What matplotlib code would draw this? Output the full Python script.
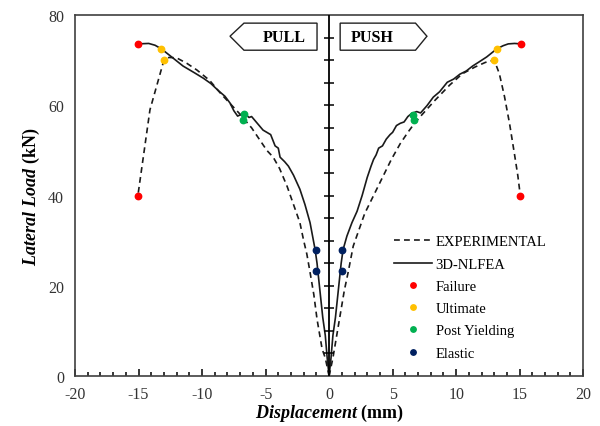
import matplotlib
matplotlib.use("Agg")
import matplotlib.pyplot as plt
from matplotlib.patches import Polygon
import numpy as np

plt.rcParams['font.family'] = ['Liberation Serif', 'DejaVu Serif']
plt.rcParams['mathtext.fontset'] = 'custom'
plt.rcParams['mathtext.bfit'] = 'Liberation Serif:italic:bold'
plt.rcParams['mathtext.rm'] = 'Liberation Serif'
plt.rcParams['axes.unicode_minus'] = False

# push side (positive displacement)
push_exp_x = [0, 0.3, 0.6, 0.9, 1.2, 1.5, 1.9, 2.3, 2.8, 3.5, 4.2, 4.9, 5.6, 6.2, 6.8,
              7.5, 8.3, 9.5, 10.5, 11.5, 12.3, 13.0, 13.4, 13.8, 14.2, 14.6, 14.85, 15.05]
push_exp_y = [0, 4, 9, 14, 19, 23, 28.8, 32, 36, 40, 44, 48, 51.5, 54, 56.3,
              58.5, 61, 64.5, 67, 68.5, 69.5, 70, 67, 62, 56, 49, 44.5, 40]
push_fea_x = [0, 0.15, 0.3, 0.5, 0.65, 0.8, 0.95, 1.1, 1.4, 1.8, 2.2, 2.6, 3.0, 3.3, 3.5,
              3.7, 3.9, 4.2, 4.5, 4.8, 5.0, 5.3, 5.6, 5.9, 6.2, 6.5, 6.9, 7.2, 7.7, 8.2,
              8.7, 9.3, 9.8, 10.3, 10.8, 11.3, 11.8, 12.4, 13.2, 13.7, 14.1, 14.6, 15.1]
push_fea_y = [0, 4, 9, 13, 17, 21, 25, 28, 31, 34, 36.5, 40, 44, 46.5, 48,
              49, 50.5, 51, 52.5, 53.5, 54, 55.5, 56, 56.3, 57.5, 58.2, 58.6, 58.3, 59.9, 61.8,
              63, 65.1, 65.8, 66.9, 67.6, 68.7, 69.6, 70.7, 72.5, 73.2, 73.6, 73.7, 73.6]

# pull side (negative displacement)
pull_exp_x = [0, -0.3, -0.55, -0.95, -1.2, -1.5, -1.75, -2.0, -2.3, -2.8, -3.3, -3.9, -4.4,
              -4.9, -5.5, -6.1, -6.5, -7.0, -7.6, -8.5, -9.4, -10.4, -11.2, -12.0, -12.6,
              -13.0, -13.5, -14.1, -14.5, -14.8, -15.05]
pull_exp_y = [0, 4, 6, 12.6, 18, 23, 27, 30, 34, 38, 42, 46, 48.5,
              50, 52.5, 55, 56.3, 58, 59.8, 62.5, 65.5, 67.8, 69.3, 70.5, 70.6,
              70, 65, 59, 51, 45, 40]
pull_fea_x = [0, -0.15, -0.3, -0.5, -0.65, -0.8, -0.95, -1.1, -1.3, -1.5, -1.9, -2.3, -2.8,
              -3.2, -3.5, -3.86, -4.0, -4.25, -4.6, -4.9, -5.2, -5.5, -5.8, -6.1, -6.3, -6.6,
              -6.9, -7.2, -7.5, -7.8, -8.2, -8.7, -9.3, -9.9, -10.6, -11.5, -12.3, -13.2,
              -13.7, -14.2, -15.05]
pull_fea_y = [0, 4, 9, 13, 17, 21, 25, 28, 31, 34, 38, 41.4, 44.5,
              46.5, 47.5, 48.5, 50.5, 51, 53.5, 54, 54.5, 55.5, 56.5, 57.5, 57.3, 58,
              58, 57.6, 58.8, 60.5, 62, 63.2, 64.8, 66, 67.2, 68.7, 70.5, 72.5,
              73.3, 73.7, 73.6]

# key points
failure_x = [15.1, 15.05, -15.05, -15.05]
failure_y = [73.6, 40.0, 73.6, 40.0]
ultimate_x = [13.2, 13.0, -13.2, -13.0]
ultimate_y = [72.5, 70.0, 72.5, 70.0]
post_x = [6.6, 6.7, -6.7, -6.8]
post_y = [57.9, 56.8, 58.0, 56.8]
elastic_x = [1.0, 1.0, -1.0, -1.0]
elastic_y = [27.9, 23.3, 27.9, 23.3]

fig = plt.figure(figsize=(6, 4.27), dpi=100)
ax = fig.add_axes([0.125, 0.117, 0.847, 0.8455])

dash = (0, (3.5, 2.5))
col = '#1a1a1a'
ax.plot(push_exp_x, push_exp_y, color=col, lw=1.2, ls=dash, label='EXPERIMENTAL')
ax.plot(push_fea_x, push_fea_y, color=col, lw=1.2, label='3D-NLFEA')
ax.plot(pull_exp_x, pull_exp_y, color=col, lw=1.2, ls=dash)
ax.plot(pull_fea_x, pull_fea_y, color=col, lw=1.2)

ms = 4.6
ax.plot(failure_x, failure_y, 'o', color='#ff0000', ms=ms, label='Failure', zorder=5)
ax.plot(ultimate_x, ultimate_y, 'o', color='#ffc000', ms=ms, label='Ultimate', zorder=5)
ax.plot(post_x, post_y, 'o', color='#00b050', ms=ms, label='Post Yielding', zorder=5)
ax.plot(elastic_x, elastic_y, 'o', color='#002060', ms=ms, label='Elastic', zorder=5)

# center axis with crossing ticks
ax.axvline(0, color='black', lw=1.3, zorder=3)
yt = np.arange(5, 80, 5)
ax.plot(np.zeros(len(yt)), yt, ls='none', marker='_', ms=7, mew=1.1, color='black', zorder=3)

ax.set_xlim(-20, 20)
ax.set_ylim(0, 80)
ax.set_xticks(np.arange(-20, 21, 5))
ax.set_xticks(np.arange(-20, 21, 1), minor=True)
ax.set_yticks([0, 20, 40, 60, 80])
ax.tick_params(axis='x', which='major', direction='in', length=5, width=1.1, pad=7,
               labelsize=11.5, labelcolor='#333333')
ax.tick_params(axis='x', which='minor', direction='in', length=3, width=1.1)
ax.tick_params(axis='y', length=0, pad=8, labelsize=11.5, labelcolor='#333333')
for s in ax.spines.values():
    s.set_linewidth(1.2)
    s.set_color('#404040')

ax.set_xlabel(r'$\mathbfit{Displacement}$ (mm)', fontsize=13, fontweight='bold', labelpad=0)
ax.set_ylabel(r'$\mathbfit{Lateral\ Load}$ (kN)', fontsize=13, fontweight='bold', labelpad=4)

# PULL / PUSH arrow boxes
pull_box = Polygon([(-7.8, 75.3), (-6.7, 78.2), (-0.95, 78.2), (-0.95, 72.2), (-6.7, 72.2)],
                   closed=True, fill=False, ec='#222222', lw=1.0)
push_box = Polygon([(0.87, 78.2), (6.8, 78.2), (7.7, 75.3), (6.8, 72.2), (0.87, 72.2)],
                   closed=True, fill=False, ec='#222222', lw=1.0)
ax.add_patch(pull_box)
ax.add_patch(push_box)
ax.text(-3.5, 75.2, 'PULL', ha='center', va='center', fontsize=11.5, fontweight='bold')
ax.text(3.4, 75.2, 'PUSH', ha='center', va='center', fontsize=11.5, fontweight='bold')

ax.legend(loc='upper left', bbox_to_anchor=(0.628, 0.39), frameon=False, fontsize=10.5,
          handlelength=2.6, handletextpad=0.25, labelspacing=0.62, borderpad=0,
          borderaxespad=0, markerscale=0.85)

fig.savefig('out.png', dpi=100)
